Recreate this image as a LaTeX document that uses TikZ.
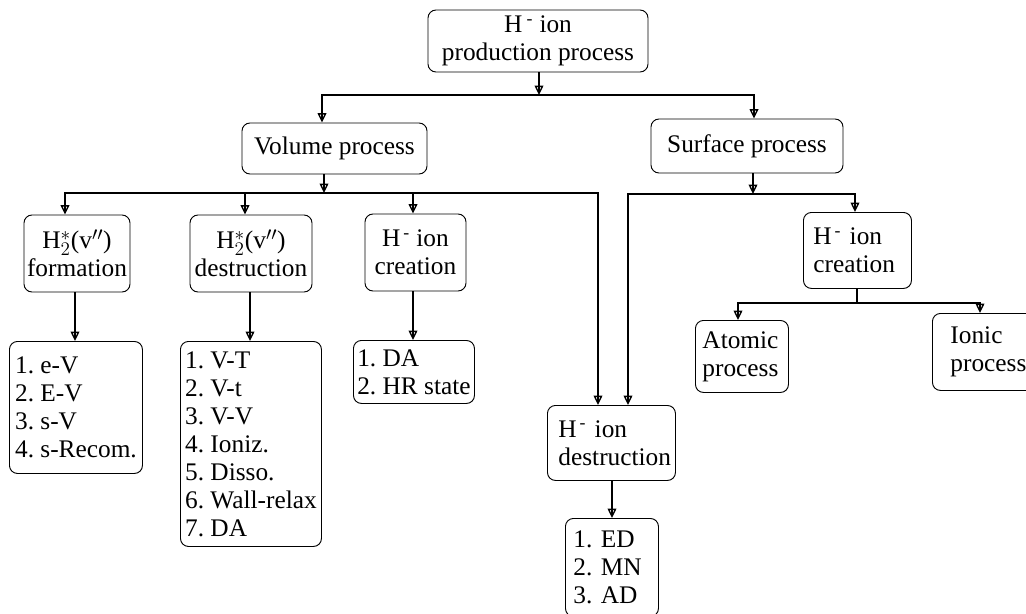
\documentclass[tikz,border=0pt]{standalone}
\usepackage{fontspec}
\setmainfont{Liberation Serif}
\usetikzlibrary{arrows.meta}
\tikzset{
  x=0.75pt, y=-0.75pt,
  box/.style={draw, line width=0.7pt, rounded corners=6pt, inner sep=2pt,
    font=\fontsize{19}{21}\selectfont\frenchspacing},
  sz/.style 2 args={minimum width=#1*0.75pt, minimum height=#2*0.75pt},
  lbox/.style={box, align=left, anchor=north west},
  conn/.style={line width=1.7pt},
  arr/.style={conn, -{Triangle[open, length=7pt, width=6.5pt, line width=1pt]},
    postaction={draw, -, line width=1.2pt, shorten >=2pt}},
}
\newcommand{\Hm}{H\textsuperscript{\,-}}
\newcommand{\Htwo}{H$_{2}^{*}$(v$''$)}
\begin{document}
\begin{tikzpicture}
\useasboundingbox (0,0) rectangle (1026,614);
\clip (0,0) rectangle (1026,614);
% nodes
\node[box, sz={220}{62}, align=center] (top) at (538,41) {H\,\textsuperscript{-} ion\\production process};
\node[box, sz={185}{51}] (vol) at (334.5,148.5) {Volume process};
\node[box, sz={192}{54}] (surf) at (747,146) {Surface process};
\node[box, sz={106}{77}, align=center] (f1) at (77,253.5) {\Htwo\\formation};
\node[box, sz={122}{77}, align=center] (d1) at (251,253.5) {\Htwo\\destruction};
\node[box, sz={101}{77}, align=center] (c1) at (415.5,252.5) {\Hm\ ion\\creation};
\node[lbox, sz={133}{132}, inner xsep=1pt] (fl) at (9,341) {1. e-V\\2. E-V\\3. s-V\\4. s-Recom.};
\node[lbox, sz={141}{205}, inner xsep=1pt] (dl) at (180,341) {1. V-T\\2. V-t\\3. V-V\\4. Ioniz.\\5. Disso.\\6. Wall-relax\\7. DA};
\node[lbox, sz={121}{63}, inner xsep=1pt] (cl) at (353,340) {1. DA\\2. HR state};
\node[lbox, sz={128}{75}, inner xsep=8.25pt, text width=79.5pt] (hd) at (547,405) {\Hm\ ion\\destruction};
\node[lbox, sz={93}{98}, inner xsep=6pt, text width=57.75pt] (el) at (565,518) {1. ED\\2. MN\\3. AD};
\node[lbox, sz={108}{76}, inner xsep=7.5pt, text width=66pt] (sc) at (803,212) {\Hm\ ion\\creation};
\node[lbox, sz={93}{72}, inner xsep=5.25pt, text width=59.25pt] (at) at (695,320) {Atomic\\process};
\node[lbox, sz={130}{77}, inner xsep=13.5pt, text width=70.5pt] (io) at (932,313) {Ionic\\process};
% junctions
\coordinate (h1) at (539,95);
\coordinate (h2) at (324,193);
\coordinate (h3) at (753,194);
\coordinate (h4) at (857,303);
% branch x positions
\coordinate (xv) at (322,0);
\coordinate (xs) at (754,0);
\coordinate (xf) at (65,0);
\coordinate (xd) at (245,0);
\coordinate (xc) at (413,0);
\coordinate (xh) at (598,0);
\coordinate (xh2) at (628,0);
\coordinate (xsc) at (855,0);
\coordinate (xat) at (738,0);
\coordinate (xio) at (980,0);
\coordinate (xfl) at (75,0);
\coordinate (xdl) at (250,0);
\coordinate (xel) at (612,0);
% connectors
\draw[arr] (top.south -| h1) -- (h1);
\draw[arr] (h1) -| (xv |- vol.north);
\draw[arr] (h1) -| (xs |- surf.north);
\draw[arr] (vol.south -| h2) -- (h2);
\draw[arr] (h2) -| (xf |- f1.north);
\draw[arr] (h2) -| (xd |- d1.north);
\draw[arr] (h2) -| (xc |- c1.north);
\draw[arr] (h2) -| (xh |- hd.north);
\draw[arr] (surf.south -| h3) -- (h3);
\draw[arr] (h3) -| (xh2 |- hd.north);
\draw[arr] (h3) -| (xsc |- sc.north);
\draw[arr] (f1.south -| xfl) -- (fl.north -| xfl);
\draw[arr] (d1.south -| xdl) -- (dl.north -| xdl);
\draw[arr] (c1.south -| xc) -- (cl.north -| xc);
\draw[arr] (hd.south -| xel) -- (el.north -| xel);
\draw[conn] (sc.south -| h4) -- (h4);
\draw[arr] (h4) -| (xat |- at.north);
\draw[arr] (h4) -| (xio |- io.north);
\end{tikzpicture}
\end{document}
